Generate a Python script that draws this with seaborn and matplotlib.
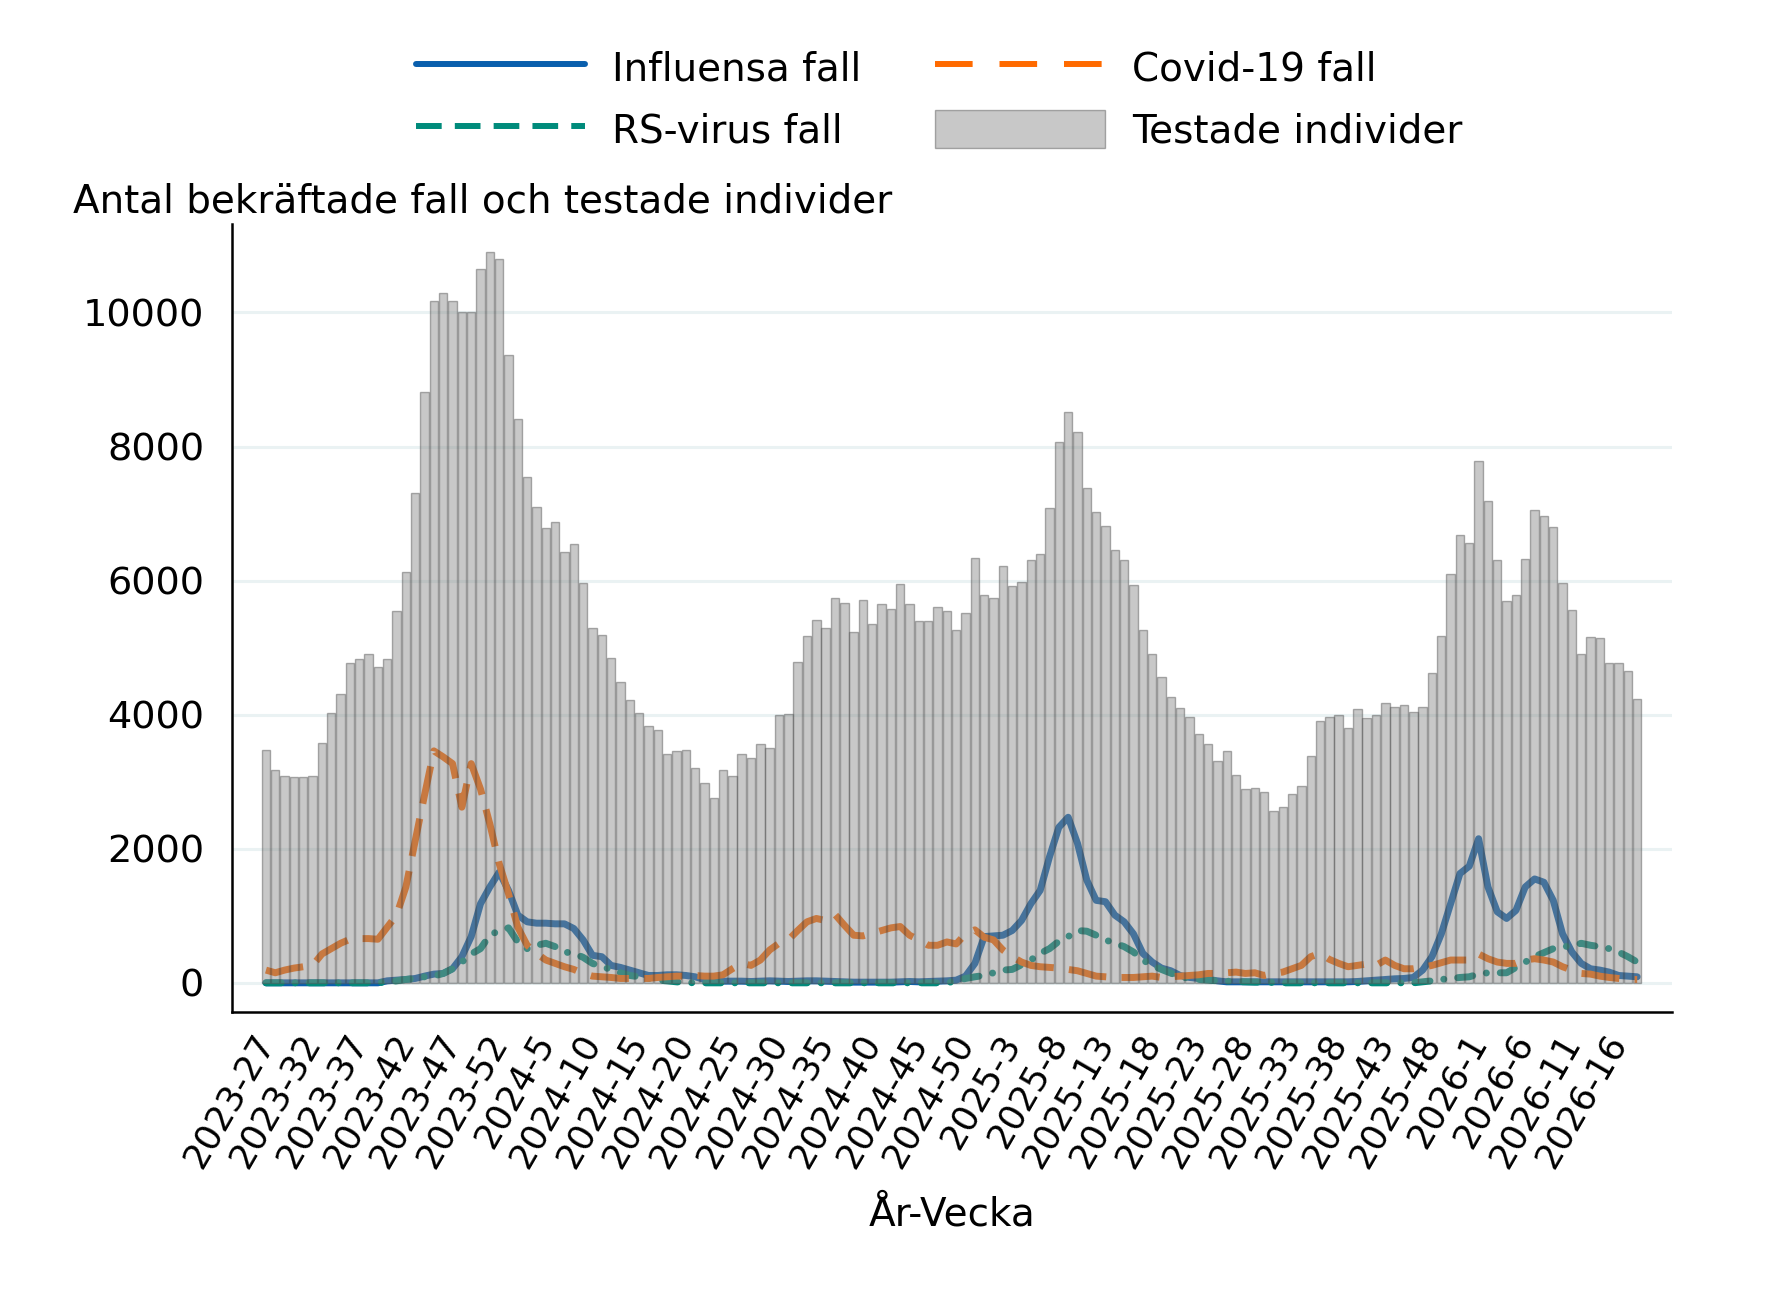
import matplotlib
matplotlib.use("Agg")
import matplotlib.pyplot as plt
from matplotlib.lines import Line2D
import matplotlib.patches as mpatches
import seaborn as sns
import numpy as np

sns.set_style("white")
plt.rcParams["font.family"] = ["DejaVu Sans"]
plt.rcParams["text.color"] = "black"
plt.rcParams["xtick.color"] = "black"
plt.rcParams["ytick.color"] = "black"

# veckor 2023-27 .. 2026-18
weeks = ([f"2023-{w}" for w in range(27, 53)] + [f"2024-{w}" for w in range(1, 53)]
         + [f"2025-{w}" for w in range(1, 53)] + [f"2026-{w}" for w in range(1, 19)])

testade = [3470, 3170, 3080, 3070, 3070, 3090, 3580, 4030, 4310, 4770,
           4830, 4910, 4710, 4830, 5550, 6130, 7310, 8810, 10170, 10290,
           10170, 10000, 10000, 10650, 10900, 10790, 9360, 8410, 7540, 7100,
           6790, 6870, 6430, 6540, 5970, 5290, 5190, 4840, 4480, 4220,
           4030, 3830, 3770, 3420, 3460, 3470, 3210, 2980, 2760, 3180,
           3090, 3410, 3350, 3560, 3510, 4000, 4010, 4790, 5170, 5410,
           5300, 5740, 5660, 5240, 5710, 5350, 5650, 5570, 5950, 5650,
           5400, 5390, 5610, 5540, 5270, 5520, 6340, 5790, 5740, 6220,
           5920, 5980, 6300, 6390, 7080, 8060, 8510, 8210, 7380, 7020,
           6820, 6460, 6310, 5940, 5260, 4910, 4560, 4270, 4100, 3970,
           3710, 3570, 3310, 3460, 3100, 2890, 2900, 2840, 2560, 2620,
           2820, 2940, 3390, 3900, 3970, 4000, 3800, 4080, 3950, 3990,
           4170, 4120, 4140, 4040, 4110, 4620, 5170, 6100, 6680, 6560,
           7790, 7190, 6300, 5700, 5780, 6320, 7060, 6970, 6800, 5960,
           5560, 4910, 5160, 5140, 4770, 4770, 4650, 4230]

influensa = [0, 0, 0, 0, 0, 0, 0, 0, 0, 0,
             0, 0, 0, 30, 40, 50, 65, 100, 130, 140,
             210, 390, 690, 1180, 1430, 1650, 1380, 1010, 910, 890,
             890, 880, 880, 810, 640, 410, 390, 260, 230, 190,
             150, 110, 110, 120, 120, 110, 90, 50, 30, 25,
             25, 25, 20, 25, 30, 25, 20, 25, 30, 30,
             25, 20, 15, 10, 10, 10, 10, 10, 15, 20,
             15, 20, 25, 30, 40, 100, 290, 690, 700, 710,
             780, 930, 1180, 1380, 1880, 2320, 2470, 2080, 1530, 1230,
             1210, 1010, 910, 730, 440, 310, 220, 180, 110, 80,
             65, 50, 30, 15, 15, 15, 15, 15, 15, 15,
             15, 15, 15, 15, 15, 15, 15, 20, 30, 40,
             50, 60, 65, 80, 190, 390, 730, 1180, 1630, 1740,
             2150, 1430, 1060, 960, 1080, 1430, 1550, 1500, 1230, 730,
             460, 290, 210, 190, 160, 110, 100, 90]

rsvirus = [0, 0, 0, 0, 0, 0, 0, 0, 0, 0,
           0, 0, 0, 15, 30, 50, 65, 90, 100, 140,
           210, 310, 430, 510, 710, 780, 820, 610, 510, 560,
           590, 540, 460, 440, 380, 290, 240, 200, 150, 110,
           90, 65, 40, 30, 15, 5, 0, 0, 0, 0,
           0, 0, 0, 0, 0, 0, 0, 0, 0, 0,
           0, 0, 0, 0, 0, 0, 0, 0, 0, 0,
           0, 0, 0, 0, 30, 65, 90, 110, 150, 190,
           200, 270, 340, 440, 510, 620, 690, 780, 770, 710,
           640, 590, 540, 460, 340, 260, 200, 145, 90, 65,
           50, 40, 30, 25, 20, 15, 10, 10, 5, 0,
           0, 0, 0, 0, 0, 0, 0, 0, 0, 0,
           0, 0, 0, 0, 15, 30, 50, 65, 80, 90,
           130, 150, 150, 150, 230, 310, 390, 450, 510, 540,
           550, 590, 560, 540, 510, 460, 390, 310]

covid = [190, 150, 190, 220, 240, 260, 430, 510, 590, 650,
         660, 660, 650, 830, 1010, 1430, 2120, 2800, 3460, 3370,
         3270, 2620, 3270, 2890, 2370, 1780, 1330, 830, 560, 440,
         340, 290, 240, 200, 140, 100, 90, 80, 65, 65,
         65, 65, 80, 90, 100, 100, 110, 100, 100, 120,
         210, 290, 260, 340, 490, 590, 640, 780, 910, 960,
         930, 1020, 860, 710, 700, 740, 780, 820, 840, 710,
         640, 560, 560, 610, 580, 730, 790, 680, 640, 490,
         390, 310, 260, 240, 230, 220, 200, 180, 140, 100,
         90, 80, 80, 80, 90, 100, 80, 90, 100, 110,
         120, 140, 140, 150, 160, 140, 150, 110, 140, 160,
         210, 260, 390, 440, 350, 290, 240, 260, 280, 260,
         340, 260, 210, 210, 230, 260, 300, 340, 340, 340,
         430, 360, 310, 290, 290, 340, 360, 340, 310, 240,
         190, 140, 130, 100, 80, 65, 50, 50]

idx = np.arange(len(weeks))
tick_pos = idx[::5][:30]

blue = "#0a5fad"
orange = "#ff6a00"
teal = "#008b7b"

fig = plt.figure(figsize=(17.82, 12.96), dpi=100)
ax = fig.add_axes([0.1302, 0.2194, 0.8079, 0.6078])

sns.lineplot(x=idx, y=influensa, ax=ax, color=blue, linewidth=5, zorder=2, estimator=None)
sns.lineplot(x=idx, y=rsvirus, ax=ax, color=teal, linewidth=5, zorder=2, estimator=None,
             linestyle=(0, (2.2, 2.0, 0.01, 2.0)), dash_capstyle="round")
sns.lineplot(x=idx, y=covid, ax=ax, color=orange, linewidth=5, zorder=2, estimator=None,
             linestyle=(0, (5.5, 2.2)))
sns.barplot(x=idx, y=testade, ax=ax, native_scale=True, color="#8a8a8a", saturation=1,
            alpha=0.47, edgecolor="#555555", linewidth=1.0, width=0.9, zorder=3)

ax.set_xlim(-3.64, 150.7)
ax.set_ylim(-430, 11320)
ax.set_axisbelow(True)
ax.yaxis.grid(True, color="#eaf2f3", linewidth=2.2, zorder=0)
ax.xaxis.grid(False)
for s in ["top", "right"]:
    ax.spines[s].set_visible(False)
for s in ["left", "bottom"]:
    ax.spines[s].set_linewidth(1.8)
    ax.spines[s].set_color("black")

ax.set_yticks(range(0, 10001, 2000))
ax.set_yticklabels([str(v) for v in range(0, 10001, 2000)])
ax.set_xticks(tick_pos)
ax.set_xticklabels([weeks[i] for i in tick_pos], rotation=60, ha="right",
                   rotation_mode="anchor", va="center")
ax.tick_params(axis="both", direction="out", length=12, width=1.6, color="black")
ax.tick_params(axis="y", labelsize=27.5, pad=8)
ax.tick_params(axis="x", labelsize=25.5, pad=6)
ax.set_xlabel("")
ax.set_ylabel("")

fig.text(0.041, 0.836, "Antal bekräftade fall och testade individer", fontsize=28, va="baseline")
fig.text(0.534, 0.0545, "År-Vecka", fontsize=28, ha="center", va="baseline")

handles = [Line2D([], [], color=blue, lw=4.3),
           Line2D([], [], color=teal, lw=4.3, linestyle=(0, (4.3, 2.2))),
           Line2D([], [], color=orange, lw=4.3, linestyle=(0, (6.3, 4.5))),
           mpatches.Patch(facecolor="#8a8a8a", edgecolor="#555555", alpha=0.47, linewidth=1)]
labels = ["Influensa fall", "RS-virus fall", "Covid-19 fall", "Testade individer"]
fig.legend(handles, labels, ncol=2, loc="center", bbox_to_anchor=(0.527, 1 - 99 / 1296),
           frameon=False, fontsize=28, handlelength=4.35, handleheight=1.15,
           handletextpad=0.7, columnspacing=1.9, labelspacing=0.55, borderpad=0)

fig.savefig("out.png", dpi=100)
